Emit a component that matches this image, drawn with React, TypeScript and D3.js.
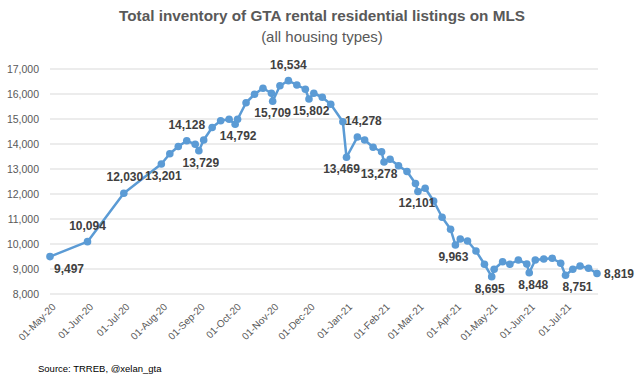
import React from "react";
import * as d3 from "d3";

const dates: string[] = [
  "2020-05-01","2020-06-01","2020-07-01","2020-08-01","2020-08-08","2020-08-15","2020-08-22","2020-08-29",
  "2020-09-01","2020-09-05","2020-09-12","2020-09-19","2020-09-26","2020-10-01","2020-10-03","2020-10-10",
  "2020-10-17","2020-10-24","2020-10-31","2020-11-01","2020-11-07","2020-11-14","2020-11-21","2020-11-28",
  "2020-12-01","2020-12-05","2020-12-12","2020-12-19","2020-12-29","2021-01-01","2021-01-10","2021-01-16",
  "2021-01-23","2021-01-30","2021-02-01","2021-02-06","2021-02-13","2021-02-20","2021-02-27","2021-03-01",
  "2021-03-07","2021-03-14","2021-03-21","2021-03-28","2021-04-01","2021-04-05","2021-04-11","2021-04-18",
  "2021-04-25","2021-05-01","2021-05-03","2021-05-10","2021-05-16","2021-05-23","2021-05-30","2021-06-01",
  "2021-06-06","2021-06-13","2021-06-20","2021-06-27","2021-07-01","2021-07-07","2021-07-13","2021-07-20",
  "2021-07-27",
];

const listings: number[] = [
  9497, 10094, 12030, 13201, 13610, 13900, 14128, 13990,
  13729, 14160, 14660, 14930, 14990, 14792, 14990, 15650,
  15990, 16230, 16030, 15709, 16330, 16534, 16360, 16190,
  15802, 16030, 15870, 15590, 14890, 13469, 14278, 14160,
  13870, 13690, 13278, 13390, 13130, 12900, 12420, 12101,
  12230, 11720, 11070, 10590, 9963, 10200, 10120, 9720,
  9190, 8695, 8990, 9290, 9190, 9360, 9200, 8848,
  9360, 9400, 9430, 9230, 8751, 8990, 9120, 9030,
  8819,
];

const yTicks: number[] = [8000, 9000, 10000, 11000, 12000, 13000, 14000, 15000, 16000, 17000];

const xTickDates: string[] = [
  "2020-05-01","2020-06-01","2020-07-01","2020-08-01","2020-09-01","2020-10-01","2020-11-01","2020-12-01",
  "2021-01-01","2021-02-01","2021-03-01","2021-04-01","2021-05-01","2021-06-01","2021-07-01",
];

// labelled points: date and placement
const labelDates: string[] = [
  "2020-05-01","2020-06-01","2020-07-01","2020-08-01","2020-08-22","2020-09-01","2020-10-01","2020-11-01",
  "2020-11-14","2020-12-01","2021-01-01","2021-01-10","2021-02-01","2021-03-01","2021-04-01","2021-05-01",
  "2021-06-01","2021-07-01","2021-07-27",
];
const labelPlacement: string[] = [
  "below","above","above","below","above","below","below","below",
  "above","below","below","above","below","below","below","below",
  "below","below","right",
];
const labelNudgeX: number[] = [19,0,1,2,0,2,3,0,0,2,-5,6,-5,-1,-2,-2,4,12,0];

const parse = d3.timeParse("%Y-%m-%d");
const fmtTick = d3.timeFormat("%d-%b-%y");
const fmtNum = d3.format(",");

export default function App() {
  const W = 644, H = 377;
  const data = dates.map((d, i) => ({ date: parse(d) as Date, value: listings[i] }));
  const x = d3.scaleTime()
    .domain([parse(dates[0]) as Date, parse(dates[dates.length - 1]) as Date])
    .range([50, 597]);
  const y = d3.scaleLinear().domain([8000, 17000]).range([294, 69]);
  const line = d3.line<{ date: Date; value: number }>()
    .x(d => x(d.date))
    .y(d => y(d.value));
  const gray = "#595959";
  const font = "'Liberation Sans', Arial, sans-serif";

  return (
    <svg width={W} height={H} style={{ position: "absolute", left: 0, top: 0, background: "#fff" }}
      fontFamily={font}>
      <rect width={W} height={H} fill="#fff" />
      <text x={322} y={21} textAnchor="middle" fontSize={15.3} fontWeight="bold" fill={gray}>
        Total inventory of GTA rental residential listings on MLS
      </text>
      <text x={322} y={42} textAnchor="middle" fontSize={15} fill={gray}>
        (all housing types)
      </text>
      {yTicks.map(t => (
        <g key={t}>
          <line x1={50} x2={598} y1={y(t)} y2={y(t)} stroke="#d9d9d9" strokeWidth={1} />
          <text x={39} y={y(t)} textAnchor="end" dominantBaseline="central" fontSize={10.5} fill={gray}>
            {fmtNum(t)}
          </text>
        </g>
      ))}
      {xTickDates.map(s => {
        const d = parse(s) as Date;
        const px = x(d);
        return (
          <text key={s} transform={`translate(${px + 4},${305}) rotate(-45)`} textAnchor="end"
            dominantBaseline="central" fontSize={10} fill={gray}>
            {fmtTick(d)}
          </text>
        );
      })}
      <path d={line(data) || ""} fill="none" stroke="#5b9bd5" strokeWidth={2.5} strokeLinejoin="round" />
      {data.map((d, i) => (
        <circle key={i} cx={x(d.date)} cy={y(d.value)} r={3.8} fill="#5b9bd5" />
      ))}
      {labelDates.map((s, i) => {
        const idx = dates.indexOf(s);
        const d = data[idx];
        const px = x(d.date), py = y(d.value);
        const p = labelPlacement[i];
        let lx = px + labelNudgeX[i], ly = py, anchor = "middle";
        if (p === "above") ly = py - 16;
        else if (p === "below") ly = py + 12;
        else if (p === "right") { lx = px + 7; anchor = "start"; }
        return (
          <text key={s} x={lx} y={ly} textAnchor={anchor} dominantBaseline="central"
            fontSize={12} fontWeight="bold" fill="#404040">
            {fmtNum(d.value)}
          </text>
        );
      })}
      <text x={38} y={372} fontSize={9.5} fill="#000">Source: TRREB, @xelan_gta</text>
    </svg>
  );
}
